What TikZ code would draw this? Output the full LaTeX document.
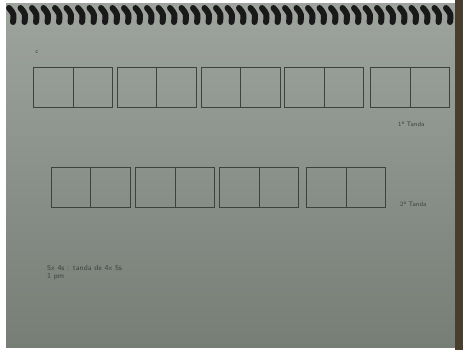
\documentclass[tikz,border=0pt]{standalone}
\usepackage{tikz}
\usetikzlibrary{positioning,calc}
\definecolor{paperTop}{RGB}{158,163,158}
\definecolor{paperBot}{RGB}{118,126,118}
\definecolor{pencil}{RGB}{62,66,62}
\definecolor{desk}{RGB}{72,62,46}
\tikzset{
  cell/.style={draw=pencil, line width=0.9pt, inner sep=0pt,
    minimum width=79pt, minimum height=40pt},
  split/.style={draw=pencil, line width=0.7pt},
  lbl/.style={text=pencil, inner sep=0pt, font=\sffamily\fontsize{6.5}{7.5}\selectfont},
  ring/.style={line width=6pt, line cap=round, black!90}
}
\begin{document}
\begin{tikzpicture}[x=1pt,y=-1pt]
  % photo frame
  \fill[white] (0,0) rectangle (463,350);
  \useasboundingbox (0,0) rectangle (463,350);
  \shade[top color=paperTop, bottom color=paperBot] (6,4) rectangle (455,347);
  \fill[desk] (455,0) rectangle (463,350);

  % spiral binding
  \foreach \i in {0,...,38}
    \draw[ring] ({9+11.5*\i},8) .. controls ({14+11.5*\i},14) .. ({13+11.5*\i},22);

  % small mark
  \node[lbl] (mark) at (37,52) {c};

  % first row
  \foreach \n/\x in {a/73, b/156.5, c/240.5, d/324, e/410}
    \node[cell] (top\n) at (\x,87) {};
  \foreach \n in {a,b,c,d,e}
    \draw[split] (top\n.north) -- (top\n.south);
  \node[lbl, anchor=west] (lbltop) at (398,124) {1ª Tanda};

  % second row
  \foreach \n/\x in {a/90.5, b/175, c/259, d/346}
    \node[cell] (bot\n) at (\x,187.5) {};
  \foreach \n in {a,b,c,d}
    \draw[split] (bot\n.north) -- (bot\n.south);
  \node[lbl, anchor=west] (lblbot) at (400,204) {2ª Tanda};

  % note
  \node[lbl, anchor=north west, align=left, font=\sffamily\fontsize{7.5}{8}\selectfont] (note) at (47,265)
    {5x 4s : tanda de 4x 5s\\1 pm};
\end{tikzpicture}
\end{document}
